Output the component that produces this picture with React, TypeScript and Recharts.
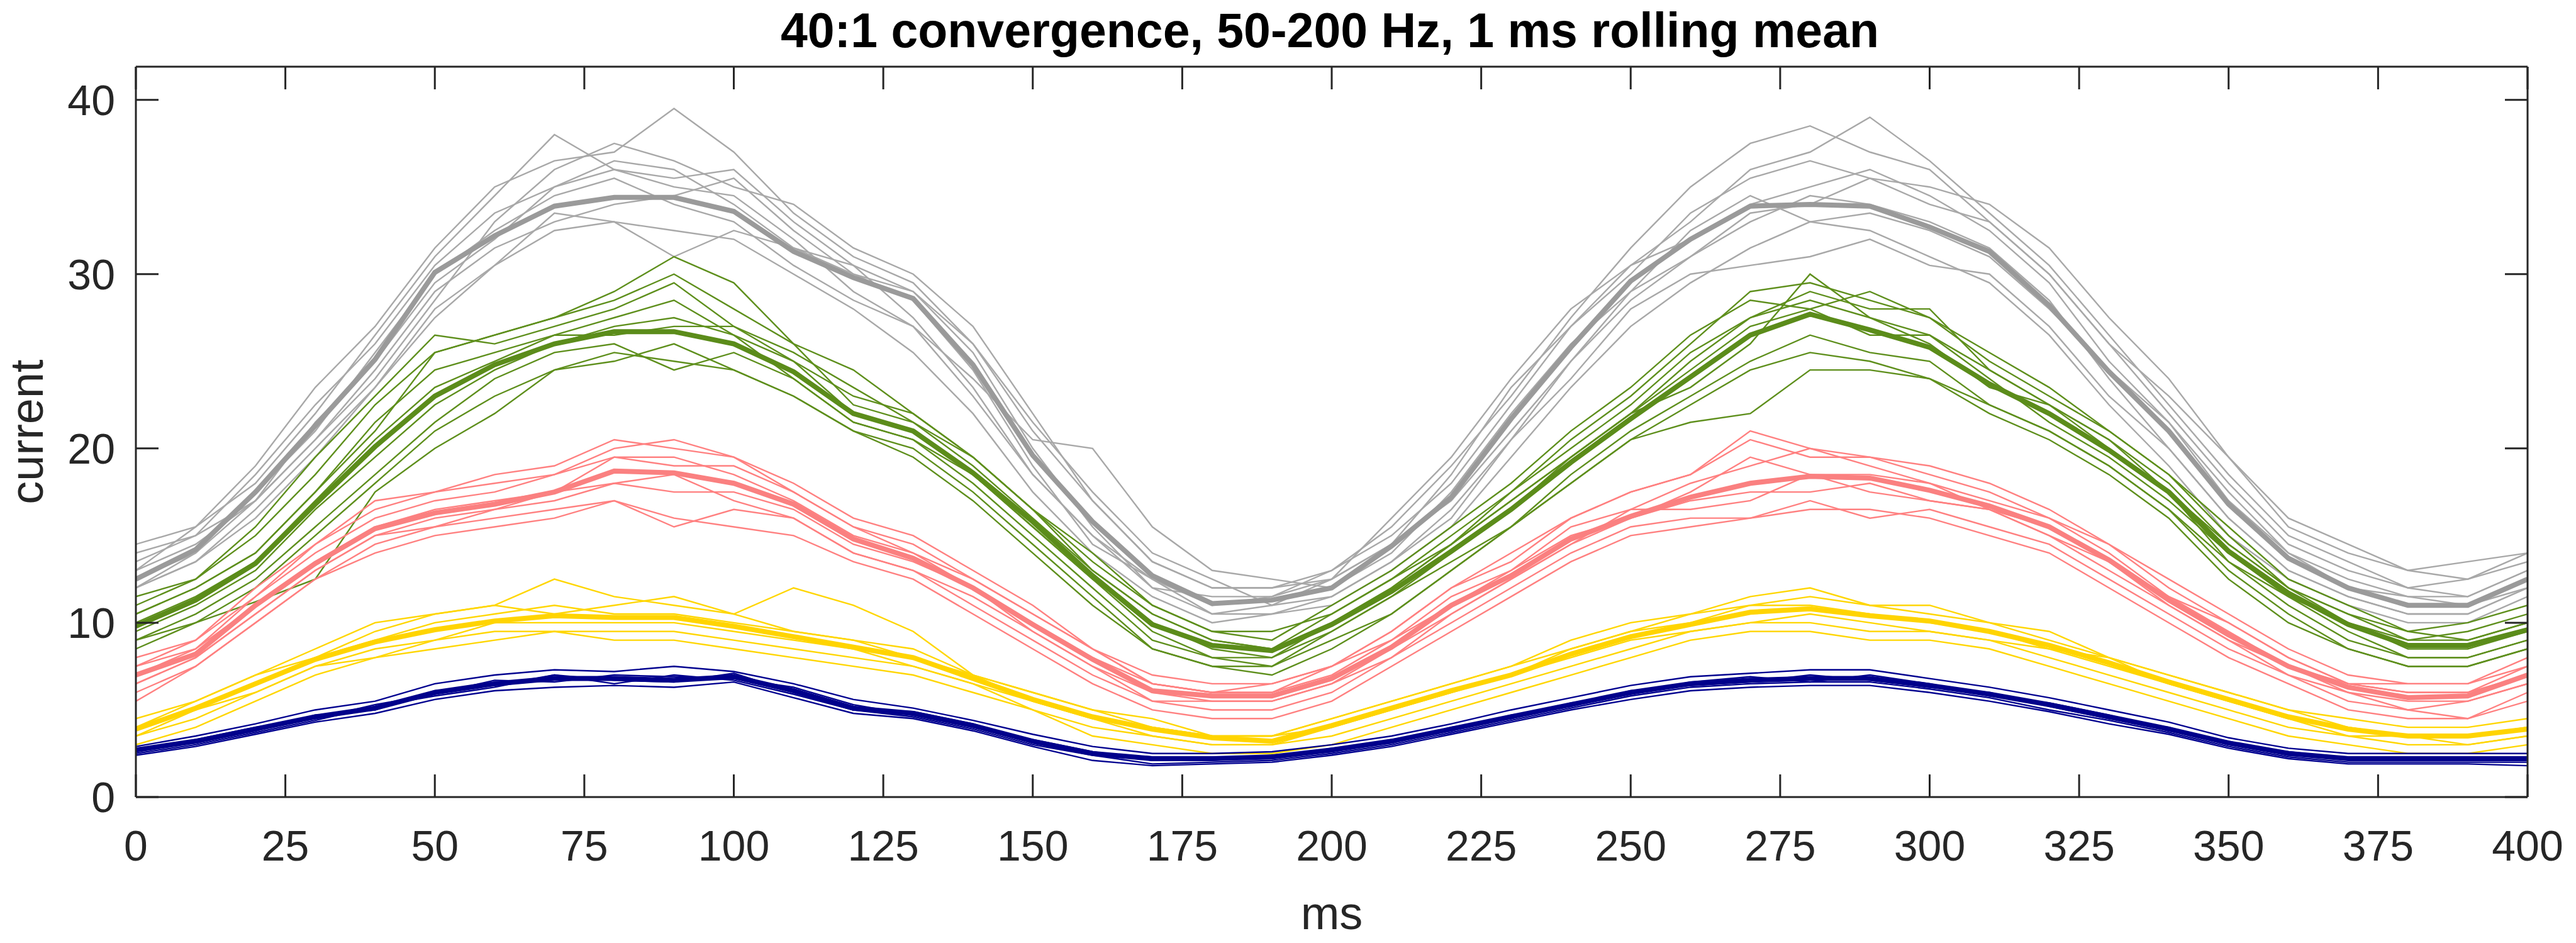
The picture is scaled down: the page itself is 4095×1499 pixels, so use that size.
import React from 'react';
import { LineChart, Line, XAxis, YAxis } from 'recharts';

// time axis (ms), sampled every 10 ms
const MS = [0, 10, 20, 30, 40, 50, 60, 70, 80, 90, 100, 110, 120, 130, 140, 150, 160, 170, 180, 190, 200, 210, 220, 230, 240, 250, 260, 270, 280, 290, 300, 310, 320, 330, 340, 350, 360, 370, 380, 390, 400];
const X_TICKS = [0, 25, 50, 75, 100, 125, 150, 175, 200, 225, 250, 275, 300, 325, 350, 375, 400];
const Y_TICKS = [0, 10, 20, 30, 40];

const TITLE = '40:1 convergence, 50-200 Hz, 1 ms rolling mean';
const X_LABEL = 'ms';
const Y_LABEL = 'current';

// ---- gray ----
const GRAY_MEAN = [12.5, 14.2, 17.5, 21.3, 25.1, 30.1, 32.2, 33.9, 34.4, 34.4, 33.6, 31.3, 29.8, 28.6, 24.8, 19.6, 15.8, 12.7, 11.1, 11.3, 12.0, 14.4, 17.2, 21.7, 25.8, 29.6, 32.0, 33.9, 34.0, 33.9, 32.7, 31.3, 28.2, 24.4, 21.0, 16.8, 13.7, 12.0, 11.0, 11.0, 12.5];
const GRAY_TRIALS = [
  [13.0, 15.5, 19.0, 23.5, 27.0, 31.5, 35.0, 36.5, 37.0, 39.5, 37.0, 33.5, 31.0, 29.5, 26.0, 21.0, 17.0, 13.5, 12.0, 12.0, 13.0, 15.5, 19.0, 23.0, 27.5, 31.5, 35.0, 37.5, 38.5, 37.0, 36.0, 33.0, 30.0, 26.0, 22.0, 18.0, 14.5, 13.0, 12.0, 12.5, 13.5],
  [14.5, 15.5, 18.0, 22.0, 26.5, 31.0, 34.5, 38.0, 36.0, 35.5, 36.0, 33.0, 30.5, 29.0, 26.0, 21.5, 17.5, 14.0, 12.5, 11.0, 12.5, 16.0, 19.5, 24.0, 28.0, 30.5, 33.0, 36.0, 37.0, 39.0, 36.5, 33.5, 30.5, 26.5, 22.5, 18.5, 15.0, 13.5, 12.0, 11.5, 13.0],
  [12.0, 13.5, 16.5, 20.0, 23.5, 28.0, 30.5, 32.5, 33.0, 31.0, 32.5, 31.5, 30.5, 27.5, 23.5, 18.5, 15.0, 12.5, 10.5, 11.0, 11.5, 13.5, 16.5, 20.5, 24.0, 28.0, 30.0, 30.5, 31.0, 32.0, 30.5, 30.0, 27.0, 23.0, 20.0, 16.0, 13.0, 11.5, 10.5, 10.5, 12.0],
  [13.0, 14.5, 17.0, 21.5, 25.0, 29.5, 32.0, 35.0, 36.0, 35.0, 34.5, 32.0, 29.0, 27.0, 24.0, 20.5, 20.0, 15.5, 13.0, 12.5, 12.0, 14.0, 17.5, 22.0, 26.0, 29.0, 31.0, 33.5, 34.0, 35.5, 34.0, 33.0, 30.0, 26.0, 23.0, 19.5, 15.5, 14.0, 13.0, 12.5, 14.0],
  [12.0, 14.0, 17.0, 20.5, 24.5, 29.0, 31.5, 33.0, 34.0, 34.5, 35.5, 32.5, 30.0, 29.0, 25.5, 20.0, 15.5, 12.0, 11.5, 11.5, 12.5, 14.5, 17.0, 21.0, 25.0, 29.0, 32.5, 34.5, 33.0, 33.5, 32.5, 31.0, 28.0, 24.5, 21.5, 17.0, 14.0, 12.5, 11.5, 11.0, 12.0],
  [13.5, 15.0, 18.5, 22.5, 26.0, 30.5, 33.5, 35.0, 36.5, 36.0, 34.0, 31.5, 30.0, 28.5, 24.5, 19.0, 14.5, 12.5, 11.0, 11.5, 13.0, 15.0, 18.0, 22.5, 27.0, 30.5, 32.0, 34.0, 35.0, 36.0, 34.5, 32.5, 29.5, 25.0, 21.5, 17.5, 14.0, 12.0, 11.5, 11.5, 13.0],
  [12.5, 14.0, 17.5, 21.0, 25.5, 30.0, 32.5, 34.5, 35.5, 34.0, 33.0, 30.5, 28.5, 27.0, 23.0, 18.5, 15.0, 12.0, 10.5, 10.5, 11.5, 13.5, 16.0, 20.5, 25.0, 28.5, 31.0, 33.0, 34.5, 34.0, 33.0, 31.5, 28.5, 24.0, 20.0, 16.0, 13.0, 11.5, 10.5, 10.5, 12.0],
  [14.0, 15.0, 17.0, 20.5, 24.0, 28.5, 33.0, 36.0, 37.5, 36.5, 35.0, 34.0, 31.5, 30.0, 27.0, 22.0, 17.0, 13.5, 12.0, 12.0, 12.5, 14.5, 18.5, 23.5, 27.0, 30.0, 33.5, 35.5, 36.5, 35.5, 35.0, 34.0, 31.5, 27.5, 24.0, 19.5, 16.0, 14.5, 13.0, 13.5, 14.0],
  [12.0, 13.5, 16.0, 19.5, 23.5, 27.5, 30.5, 33.5, 33.0, 32.5, 32.0, 30.0, 28.0, 25.5, 22.0, 17.5, 14.0, 11.5, 10.0, 10.5, 11.0, 13.0, 15.5, 19.5, 23.5, 27.0, 29.5, 31.5, 33.0, 32.5, 31.0, 29.5, 26.5, 22.5, 19.0, 15.0, 12.5, 11.0, 10.0, 10.0, 11.5],
];

// ---- green ----
const GREEN_MEAN = [9.8, 11.3, 13.4, 16.8, 20.1, 23.0, 24.8, 26.0, 26.7, 26.7, 26.0, 24.4, 22.0, 21.0, 18.6, 15.8, 12.7, 9.9, 8.7, 8.4, 9.9, 11.8, 14.1, 16.5, 19.2, 21.7, 24.1, 26.5, 27.7, 26.8, 25.8, 23.7, 22.0, 19.9, 17.5, 14.1, 11.7, 9.9, 8.7, 8.7, 9.6];
const GREEN_TRIALS = [
  [10.5, 12.0, 14.0, 17.5, 21.0, 25.5, 26.5, 27.5, 29.0, 31.0, 29.5, 26.0, 22.5, 21.5, 19.5, 16.5, 13.0, 10.5, 9.0, 8.5, 10.5, 12.5, 15.0, 17.5, 20.5, 23.0, 26.0, 29.0, 29.5, 28.5, 27.5, 25.0, 23.0, 21.0, 18.5, 15.0, 12.0, 10.5, 9.5, 9.0, 10.0],
  [8.5, 10.0, 11.2, 12.5, 17.5, 20.0, 22.0, 24.5, 25.5, 25.0, 24.5, 23.0, 21.0, 20.0, 17.5, 14.5, 11.5, 8.5, 7.5, 7.5, 9.0, 10.5, 13.0, 15.5, 18.0, 20.5, 21.5, 22.0, 24.5, 24.5, 24.0, 22.5, 21.0, 19.0, 16.5, 13.0, 10.5, 8.5, 7.5, 7.5, 8.5],
  [11.5, 12.5, 15.5, 19.5, 23.0, 26.5, 26.0, 27.0, 28.0, 29.5, 27.0, 25.0, 23.0, 22.0, 19.5, 16.5, 13.5, 11.0, 9.5, 9.5, 10.5, 12.5, 14.5, 17.5, 20.0, 22.5, 25.5, 27.5, 29.0, 28.0, 28.0, 24.5, 22.5, 20.5, 18.0, 14.5, 12.0, 10.0, 9.0, 9.5, 10.5],
  [9.0, 10.5, 12.5, 15.5, 18.5, 21.5, 24.0, 25.5, 26.0, 24.5, 25.5, 24.0, 21.5, 20.5, 18.0, 15.0, 12.0, 9.0, 8.0, 7.5, 9.5, 11.5, 13.5, 15.5, 18.5, 21.0, 23.0, 25.0, 26.5, 25.5, 25.0, 22.5, 21.0, 19.0, 16.5, 13.5, 11.0, 9.0, 8.0, 8.0, 9.0],
  [10.0, 11.5, 13.5, 17.0, 20.5, 23.5, 25.0, 26.5, 27.5, 28.5, 26.5, 24.0, 21.5, 20.5, 18.5, 15.5, 12.5, 10.0, 8.5, 8.0, 10.0, 12.0, 14.5, 17.0, 19.5, 22.0, 24.5, 27.0, 28.0, 26.5, 26.5, 24.0, 21.5, 19.5, 17.0, 14.0, 11.5, 10.0, 8.5, 8.5, 9.5],
  [9.5, 11.0, 13.0, 16.5, 19.5, 22.5, 24.5, 26.0, 27.0, 27.5, 26.5, 25.0, 22.0, 21.0, 18.5, 15.5, 12.5, 9.5, 8.0, 8.0, 9.5, 11.5, 14.0, 16.5, 19.5, 22.0, 23.5, 26.0, 30.0, 27.5, 26.0, 23.5, 22.5, 20.5, 17.5, 13.5, 11.5, 9.5, 8.0, 8.0, 9.0],
  [10.5, 12.0, 14.0, 17.5, 21.5, 24.5, 25.5, 26.5, 26.5, 27.0, 27.0, 25.5, 23.5, 21.5, 19.0, 16.0, 13.0, 10.5, 9.0, 8.5, 10.0, 12.0, 14.5, 17.0, 19.5, 22.0, 25.0, 27.5, 28.5, 27.5, 26.5, 24.5, 22.5, 20.0, 17.5, 14.5, 12.0, 10.5, 9.0, 9.0, 10.0],
  [11.0, 12.5, 15.0, 18.5, 22.5, 25.5, 26.5, 27.5, 28.5, 30.0, 28.0, 26.0, 24.5, 22.0, 19.5, 16.5, 14.0, 11.0, 9.5, 9.0, 11.0, 13.0, 15.5, 18.0, 21.0, 23.5, 26.5, 28.5, 28.0, 29.0, 27.5, 25.5, 23.5, 21.0, 18.5, 15.5, 12.5, 11.0, 9.5, 10.0, 11.0],
  [9.0, 10.0, 12.0, 15.0, 18.0, 21.0, 23.0, 24.5, 25.0, 26.0, 24.5, 23.0, 21.0, 19.5, 17.0, 14.0, 11.0, 8.5, 7.5, 7.0, 8.5, 10.5, 13.0, 15.5, 18.0, 20.5, 22.5, 24.5, 25.5, 25.0, 24.0, 22.0, 20.5, 18.5, 16.0, 12.5, 10.0, 8.5, 7.5, 7.5, 8.5],
];

// ---- pink ----
const PINK_MEAN = [7.0, 8.2, 11.0, 13.4, 15.4, 16.3, 16.8, 17.5, 18.7, 18.6, 18.0, 16.8, 14.8, 13.7, 12.0, 9.9, 7.9, 6.1, 5.8, 5.8, 6.8, 8.6, 11.0, 12.7, 14.8, 16.1, 17.2, 18.0, 18.4, 18.3, 17.6, 16.7, 15.5, 13.6, 11.3, 9.3, 7.5, 6.3, 5.7, 5.8, 7.0];
const PINK_TRIALS = [
  [7.5, 9.0, 12.0, 14.5, 17.0, 17.5, 18.0, 18.5, 20.0, 20.5, 19.5, 17.5, 15.5, 14.5, 12.5, 10.5, 8.5, 6.5, 6.0, 6.0, 7.5, 9.5, 12.0, 13.5, 16.0, 17.5, 18.5, 20.5, 19.5, 19.5, 18.5, 17.5, 16.0, 14.5, 12.0, 10.0, 8.0, 6.5, 6.0, 6.0, 7.5],
  [5.5, 7.5, 10.0, 12.5, 14.5, 15.5, 16.0, 16.5, 17.0, 15.5, 16.5, 16.0, 14.0, 13.0, 11.0, 9.0, 7.0, 5.5, 5.0, 5.0, 6.0, 8.0, 10.0, 12.0, 14.0, 15.5, 16.0, 16.0, 17.0, 16.0, 16.5, 15.5, 14.5, 12.5, 10.5, 8.5, 7.0, 5.5, 5.0, 4.5, 6.0],
  [7.5, 8.5, 11.5, 14.0, 16.0, 17.0, 17.5, 18.5, 19.5, 19.0, 19.0, 17.5, 15.5, 14.0, 12.5, 10.5, 8.5, 6.5, 6.0, 6.5, 7.5, 9.0, 11.5, 13.0, 15.5, 16.5, 18.0, 19.0, 20.0, 19.0, 18.0, 17.0, 16.0, 14.0, 11.5, 10.0, 8.0, 6.5, 6.5, 6.5, 7.5],
  [6.5, 8.0, 10.5, 13.0, 15.0, 15.5, 16.5, 17.0, 18.0, 18.5, 17.0, 16.0, 14.0, 13.0, 11.5, 9.5, 7.5, 5.5, 5.5, 5.5, 6.5, 8.0, 10.5, 12.5, 14.5, 16.0, 17.0, 17.5, 17.5, 18.0, 17.0, 16.5, 15.0, 13.0, 11.0, 9.0, 7.0, 6.0, 5.0, 5.5, 6.5],
  [7.0, 8.5, 11.0, 13.5, 15.5, 16.5, 17.0, 17.5, 19.5, 19.5, 18.5, 17.0, 15.0, 14.0, 12.0, 10.0, 8.0, 6.5, 6.0, 6.0, 7.0, 9.0, 11.0, 13.0, 15.0, 16.0, 17.5, 19.5, 18.5, 18.5, 18.0, 16.5, 15.5, 13.5, 11.5, 9.5, 7.5, 6.5, 6.0, 6.0, 7.0],
  [6.5, 8.0, 10.5, 13.0, 15.0, 16.0, 16.5, 17.5, 18.0, 17.5, 17.5, 16.5, 14.5, 13.5, 12.0, 9.5, 7.5, 6.0, 5.5, 5.5, 6.5, 8.5, 10.5, 12.5, 14.5, 16.5, 16.5, 17.0, 18.5, 17.5, 17.0, 16.5, 15.0, 13.5, 11.0, 9.0, 7.5, 6.0, 5.5, 5.5, 6.5],
  [8.0, 9.0, 11.5, 14.5, 16.5, 17.5, 18.5, 19.0, 20.5, 20.0, 19.5, 18.0, 16.0, 15.0, 13.0, 11.0, 8.5, 7.0, 6.5, 6.5, 7.5, 9.5, 12.0, 14.0, 16.0, 17.5, 18.5, 21.0, 20.0, 19.5, 19.0, 18.0, 16.5, 14.5, 12.5, 10.5, 8.5, 7.0, 6.5, 6.5, 8.0],
  [6.0, 7.5, 10.0, 12.5, 14.0, 15.0, 15.5, 16.0, 17.0, 16.0, 15.5, 15.0, 13.5, 12.5, 10.5, 8.5, 6.5, 5.0, 4.5, 4.5, 5.5, 7.5, 9.5, 11.5, 13.5, 15.0, 15.5, 16.0, 16.5, 16.5, 16.0, 15.0, 14.0, 12.0, 10.0, 8.0, 6.5, 5.0, 4.5, 4.5, 5.5],
];

// ---- yellow ----
const YELLOW_MEAN = [3.9, 5.1, 6.5, 7.9, 8.9, 9.6, 10.1, 10.4, 10.3, 10.3, 9.8, 9.2, 8.6, 8.0, 6.8, 5.6, 4.6, 3.9, 3.4, 3.2, 4.1, 5.1, 6.1, 7.0, 8.2, 9.2, 9.9, 10.6, 10.8, 10.4, 10.1, 9.5, 8.7, 7.7, 6.6, 5.6, 4.6, 3.9, 3.5, 3.5, 3.9];
const YELLOW_TRIALS = [
  [4.5, 5.5, 7.0, 8.5, 10.0, 10.5, 11.0, 12.5, 11.5, 11.0, 10.5, 12.0, 11.0, 9.5, 7.0, 6.0, 5.0, 4.0, 3.5, 3.5, 4.5, 5.5, 6.5, 7.5, 9.0, 10.0, 10.5, 11.5, 12.0, 11.0, 11.0, 10.0, 9.0, 8.0, 7.0, 6.0, 5.0, 4.5, 4.0, 4.0, 4.5],
  [3.5, 4.5, 6.0, 7.5, 8.0, 9.0, 9.5, 9.5, 9.5, 9.5, 9.0, 8.5, 8.0, 7.5, 6.5, 5.0, 4.0, 3.5, 3.0, 3.0, 3.5, 4.5, 5.5, 6.5, 7.5, 8.5, 9.5, 10.0, 10.0, 9.5, 9.5, 9.0, 8.0, 7.0, 6.0, 5.0, 4.0, 3.5, 3.0, 3.0, 3.5],
  [4.0, 5.5, 7.0, 8.0, 9.5, 10.5, 11.0, 10.5, 11.0, 11.5, 10.5, 9.5, 9.0, 8.5, 7.0, 6.0, 5.0, 4.5, 3.5, 3.5, 4.5, 5.5, 6.5, 7.5, 8.5, 9.5, 10.5, 11.0, 11.5, 11.0, 10.5, 10.0, 9.5, 8.0, 7.0, 6.0, 5.0, 4.0, 3.5, 3.5, 4.0],
  [3.5, 5.0, 6.0, 7.5, 8.5, 9.0, 10.0, 10.0, 10.0, 10.0, 9.5, 9.0, 8.5, 7.5, 6.5, 5.5, 4.5, 3.5, 3.0, 3.0, 4.0, 5.0, 6.0, 7.0, 8.0, 9.0, 9.5, 10.0, 10.5, 10.0, 9.5, 9.0, 8.5, 7.5, 6.5, 5.5, 4.5, 3.5, 3.5, 3.0, 3.5],
  [4.0, 5.0, 6.5, 8.0, 9.0, 10.0, 10.5, 11.0, 10.5, 10.5, 10.0, 9.5, 9.0, 8.0, 7.0, 5.5, 4.5, 4.0, 3.5, 3.5, 4.0, 5.0, 6.0, 7.0, 8.5, 9.5, 10.0, 11.0, 11.0, 10.5, 10.0, 9.5, 8.5, 8.0, 6.5, 5.5, 4.5, 4.0, 3.5, 3.5, 4.0],
  [3.0, 4.0, 5.5, 7.0, 8.0, 8.5, 9.0, 9.5, 9.0, 9.0, 8.5, 8.0, 7.5, 7.0, 6.0, 5.0, 3.5, 3.0, 2.5, 2.5, 3.0, 4.0, 5.0, 6.0, 7.0, 8.0, 9.0, 9.5, 9.5, 9.0, 9.0, 8.5, 7.5, 6.5, 5.5, 4.5, 3.5, 3.0, 2.5, 2.5, 3.0],
];

// ---- navy ----
const NAVY_MEAN = [2.7, 3.2, 3.9, 4.6, 5.1, 6.0, 6.5, 6.8, 6.8, 6.7, 6.9, 6.1, 5.1, 4.8, 4.1, 3.2, 2.5, 2.2, 2.2, 2.3, 2.7, 3.2, 3.9, 4.6, 5.3, 6.0, 6.5, 6.7, 6.8, 6.8, 6.4, 5.9, 5.3, 4.6, 3.9, 3.1, 2.5, 2.2, 2.2, 2.2, 2.2];
const NAVY_TRIALS = [
  [2.9, 3.5, 4.2, 5.0, 5.5, 6.5, 7.0, 7.3, 7.2, 7.5, 7.2, 6.5, 5.6, 5.1, 4.4, 3.6, 2.9, 2.5, 2.5, 2.6, 3.0, 3.5, 4.2, 5.0, 5.7, 6.4, 6.9, 7.1, 7.3, 7.3, 6.8, 6.3, 5.7, 5.0, 4.3, 3.4, 2.8, 2.5, 2.5, 2.5, 2.5],
  [2.4, 2.9, 3.6, 4.3, 4.8, 5.6, 6.1, 6.3, 6.4, 6.3, 6.6, 5.7, 4.8, 4.5, 3.8, 2.9, 2.1, 1.8, 1.9, 2.0, 2.4, 2.9, 3.6, 4.3, 5.0, 5.6, 6.1, 6.3, 6.4, 6.4, 6.0, 5.5, 4.9, 4.2, 3.6, 2.8, 2.2, 1.9, 1.9, 1.9, 1.8],
  [2.6, 3.3, 4.0, 4.5, 5.3, 5.9, 6.7, 6.6, 7.0, 6.9, 6.8, 6.3, 5.3, 4.7, 4.0, 3.3, 2.6, 2.1, 2.3, 2.2, 2.8, 3.1, 4.0, 4.5, 5.4, 5.9, 6.6, 6.9, 6.6, 7.0, 6.5, 5.8, 5.4, 4.7, 3.8, 3.2, 2.4, 2.3, 2.1, 2.3, 2.1],
  [2.8, 3.1, 3.8, 4.7, 5.0, 6.1, 6.4, 7.0, 6.7, 6.6, 7.1, 6.0, 5.0, 4.9, 4.2, 3.1, 2.5, 2.3, 2.1, 2.4, 2.6, 3.3, 3.8, 4.7, 5.2, 6.1, 6.4, 6.6, 7.0, 6.7, 6.3, 6.0, 5.2, 4.5, 4.0, 3.0, 2.6, 2.2, 2.3, 2.1, 2.3],
  [2.5, 3.0, 3.7, 4.4, 5.2, 5.8, 6.3, 7.0, 6.5, 7.0, 6.7, 5.9, 5.0, 4.6, 3.9, 3.0, 2.4, 1.9, 2.0, 2.1, 2.5, 3.0, 3.7, 4.4, 5.1, 5.8, 6.3, 6.5, 6.6, 6.6, 6.2, 5.7, 5.0, 4.4, 3.7, 2.9, 2.3, 2.0, 2.0, 2.0, 2.0],
];

const GROUPS = [
  { name: 'gray', trialColor: '#a8a8a8', meanColor: '#9a9a9a', mean: GRAY_MEAN, trials: GRAY_TRIALS },
  { name: 'green', trialColor: '#5e8f1c', meanColor: '#5b8c1a', mean: GREEN_MEAN, trials: GREEN_TRIALS },
  { name: 'pink', trialColor: '#ff8080', meanColor: '#fa8080', mean: PINK_MEAN, trials: PINK_TRIALS },
  { name: 'yellow', trialColor: '#ffd600', meanColor: '#ffd400', mean: YELLOW_MEAN, trials: YELLOW_TRIALS },
  { name: 'navy', trialColor: '#00008f', meanColor: '#00008b', mean: NAVY_MEAN, trials: NAVY_TRIALS },
];

const rows = MS.map((ms, i) => {
  const r: Record<string, number> = { ms };
  GROUPS.forEach((g) => {
    g.trials.forEach((t, j) => {
      r[`${g.name}_${j}`] = t[i];
    });
    r[`${g.name}_mean`] = g.mean[i];
  });
  return r;
});

const FONT = '"Liberation Sans", Arial, Helvetica, sans-serif';
const INK = '#262626';
const W = 4095;
const H = 1499;
const PLOT_LEFT = 216;
const PLOT_RIGHT = 4018;
const PLOT_TOP = 106;
const PLOT_BOTTOM = 1267;
const CX = (PLOT_LEFT + PLOT_RIGHT) / 2;
const CY = (PLOT_TOP + PLOT_BOTTOM) / 2;

const TitleLabel = () => (
  <text x={CX - 3} y={75} textAnchor="middle" fontSize={77} fontWeight="bold" fill="#000" fontFamily={FONT}>
    {TITLE}
  </text>
);
const XLabel = () => (
  <text x={CX} y={1477} textAnchor="middle" fontSize={74} fill={INK} fontFamily={FONT}>
    {X_LABEL}
  </text>
);
const YLabel = () => (
  <text x={68} y={CY} textAnchor="middle" fontSize={74} fill={INK} fontFamily={FONT} transform={`rotate(-90, 68, ${CY})`}>
    {Y_LABEL}
  </text>
);

const axisLine = { stroke: INK, strokeWidth: 3 };
const tickLine = { stroke: INK, strokeWidth: 3 };
const tickStyle = { fontSize: 68, fill: INK, fontFamily: FONT };
const blank = () => '';

export default function App() {
  const lines: React.ReactNode[] = [];
  GROUPS.forEach((g) => {
    g.trials.forEach((_, j) => {
      lines.push(
        <Line
          key={`${g.name}_${j}`}
          dataKey={`${g.name}_${j}`}
          type="linear"
          stroke={g.trialColor}
          strokeWidth={2.4}
          dot={false}
          activeDot={false}
          isAnimationActive={false}
        />
      );
    });
    lines.push(
      <Line
        key={`${g.name}_mean`}
        dataKey={`${g.name}_mean`}
        type="linear"
        stroke={g.meanColor}
        strokeWidth={8}
        dot={false}
        activeDot={false}
        isAnimationActive={false}
      />
    );
  });

  return (
    <div style={{ position: 'absolute', left: 0, top: 0, width: W, height: H, background: '#fff' }}>
      <LineChart
        width={W}
        height={H}
        data={rows}
        margin={{ top: PLOT_TOP - 40, right: W - PLOT_RIGHT - 40, bottom: H - PLOT_BOTTOM - 150, left: PLOT_LEFT - 150 }}
      >
        <XAxis
          dataKey="ms"
          type="number"
          domain={[0, 400]}
          ticks={X_TICKS}
          interval={0}
          height={150}
          tickSize={-36}
          tickMargin={89}
          axisLine={axisLine}
          tickLine={tickLine}
          tick={tickStyle}
          allowDataOverflow
          label={<XLabel />}
        />
        <XAxis
          xAxisId="top"
          orientation="top"
          dataKey="ms"
          type="number"
          domain={[0, 400]}
          ticks={X_TICKS}
          interval={0}
          height={40}
          tickSize={-36}
          tickFormatter={blank}
          axisLine={axisLine}
          tickLine={tickLine}
          allowDataOverflow
          label={<TitleLabel />}
        />
        <YAxis
          type="number"
          domain={[0, 41.9]}
          ticks={Y_TICKS}
          interval={0}
          width={150}
          tickSize={-36}
          tickMargin={69}
          axisLine={axisLine}
          tickLine={tickLine}
          tick={tickStyle}
          allowDataOverflow
          label={<YLabel />}
        />
        <YAxis
          yAxisId="right"
          orientation="right"
          type="number"
          domain={[0, 41.9]}
          ticks={Y_TICKS}
          interval={0}
          width={40}
          tickSize={-36}
          tickFormatter={blank}
          axisLine={axisLine}
          tickLine={tickLine}
          allowDataOverflow
        />
        {lines}
      </LineChart>
    </div>
  );
}
